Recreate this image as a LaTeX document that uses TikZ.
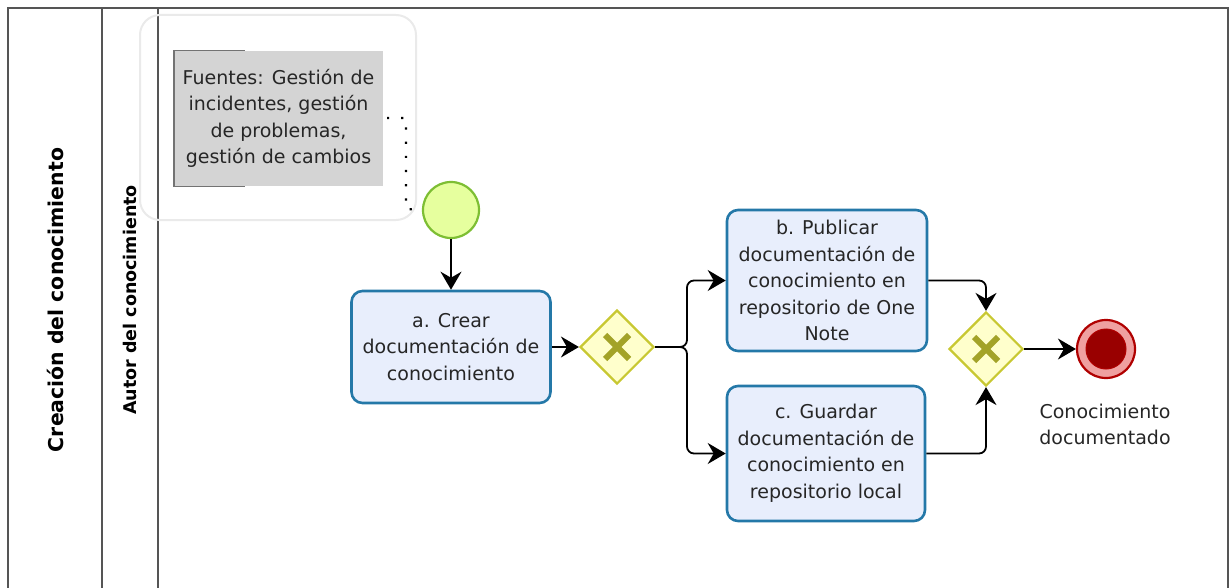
\documentclass[tikz,border=0pt]{standalone}
\usepackage{fontspec}
\setmainfont{DejaVu Sans}
\usetikzlibrary{arrows.meta,shapes.geometric,calc}
\definecolor{frame}{HTML}{555555}
\definecolor{taskfill}{HTML}{E8EEFC}
\definecolor{taskline}{HTML}{2478A8}
\definecolor{startfill}{HTML}{E6FF9E}
\definecolor{startline}{HTML}{7DBE33}
\definecolor{gwfill}{HTML}{FFFFCC}
\definecolor{gwline}{HTML}{C8C832}
\definecolor{gwmark}{HTML}{A3A328}
\definecolor{endring}{HTML}{EFA0A0}
\definecolor{endline}{HTML}{B00000}
\definecolor{endcore}{HTML}{990000}
\definecolor{annfill}{HTML}{D4D4D4}
\definecolor{groupline}{HTML}{EAEAEA}
\tikzset{
  txt/.style={font=\fontsize{19}{26.5}\selectfont, text=black!85},
  task/.style={txt, draw=taskline, fill=taskfill, line width=2.6pt,
    rounded corners=11pt, align=center, inner sep=0pt},
  gateway/.style={diamond, draw=gwline, fill=gwfill, line width=2.2pt,
    minimum width=74pt, minimum height=74pt, inner sep=0pt},
  xmark/.style={draw=gwmark, line width=6pt},
  flow/.style={draw=black, line width=1.8pt, rounded corners=7pt,
    -{Stealth[length=18pt, width=21pt, inset=6pt]}},
  assoc/.style={draw=black, line width=2.2pt, dash pattern=on 2.2pt off 12pt},
  lanetitle/.style={rotate=90, font=\bfseries, text=black},
  poolline/.style={draw=frame, line width=1.6pt}
}
\begin{document}
\begin{tikzpicture}[x=1pt, y=-1pt]
\useasboundingbox (0,0) rectangle (1230,588);

% pool and lane frame
\draw[poolline] (8,588) -- (8,8) -- (1228,8) -- (1228,588);
\draw[poolline] (102,8) -- (102,588);
\draw[poolline] (158,8) -- (158,588);
\node[lanetitle, font=\bfseries\fontsize{20.4}{24}\selectfont] (pool) at (55,300) {Creación del conocimiento};
\node[lanetitle, font=\bfseries\fontsize{17.5}{21}\selectfont] (lane) at (130,300) {Autor del conocimiento};

% group around the annotation
\draw[groupline, line width=2pt, rounded corners=20pt] (140,15) rectangle (416,220);

% text annotation
\node[txt, fill=annfill, minimum width=209pt, minimum height=135pt, align=center,
      inner sep=0pt] (ann) at (278.5,118.5)
  {Fuentes: Gestión de\\incidentes, gestión\\de problemas,\\gestión de cambios};
\draw[draw=gray!90!black, line width=1.4pt] ($(ann.north west)+(71,0)$) -- (ann.north west)
  -- (ann.south west) -- ($(ann.south west)+(71,0)$);

% events
\node[circle, draw=startline, fill=startfill, line width=2.2pt, minimum size=56pt,
      inner sep=0pt] (start) at (451,210) {};
\node[circle, draw=endline, fill=endring, line width=2.2pt, minimum size=58pt,
      inner sep=0pt] (end) at (1106,349) {};
\node[circle, draw=endline, fill=endcore, line width=1pt, minimum size=40pt,
      inner sep=0pt] (endin) at (end) {};
\node[txt, align=center] (endlbl) at (1105,424.5) {Conocimiento\\documentado};

% tasks
\node[task, minimum width=199pt, minimum height=112pt] (ta) at (451,347)
  {a. Crear\\documentación de\\conocimiento};
\node[task, minimum width=200pt, minimum height=141pt] (tb) at (827,280.5)
  {b. Publicar\\documentación de\\conocimiento en\\repositorio de One\\Note};
\node[task, minimum width=198pt, minimum height=135pt] (tc) at (826,453.5)
  {c. Guardar\\documentación de\\conocimiento en\\repositorio local};

% exclusive gateways
\node[gateway] (g1) at (617,347) {};
\node[gateway] (g2) at (986,349) {};
\foreach \g in {g1,g2}{
  \draw[xmark] ($(\g)+(-12,-12)$) -- ($(\g)+(12,12)$);
  \draw[xmark] ($(\g)+(-12,12)$) -- ($(\g)+(12,-12)$);
}

% association from annotation to start event
\coordinate (abend) at (406,118);
\draw[assoc] (387,118) -- (abend) -- (406,209) -- (start.west);

% sequence flows
\coordinate (split) at (687,347);
\draw[flow] (start.south) -- (ta.north);
\draw[flow] (ta.east) -- (g1.west);
\draw[flow] (g1.east) -- (split) |- (tb.west);
\draw[flow] (g1.east) -- (split) |- (tc.west);
\draw[flow] (tb.east) -| (g2.north);
\draw[flow] (tc.east) -| (g2.south);
\draw[flow] (g2.east) -- (end.west);
\end{tikzpicture}
\end{document}
